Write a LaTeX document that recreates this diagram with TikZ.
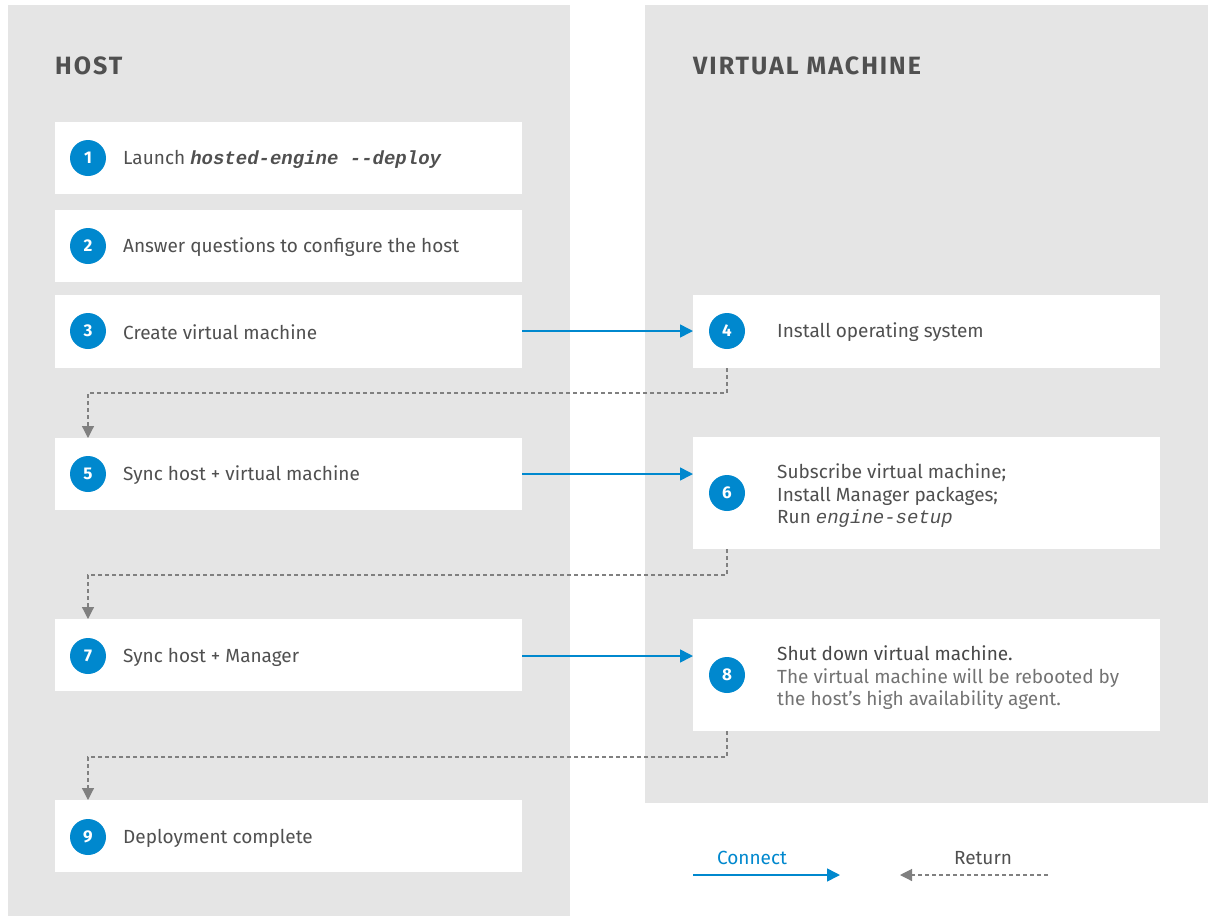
\documentclass[tikz,border=0pt]{standalone}
\usepackage{fontspec}
\setmainfont{Fira Sans}
\newfontfamily\codefont{Liberation Mono}
\newfontfamily\headfont[LetterSpace=8]{Fira Sans}
\usetikzlibrary{arrows.meta}
\definecolor{panel}{RGB}{229,229,229}
\definecolor{rhblue}{RGB}{0,136,206}
\definecolor{txt}{RGB}{80,80,80}
\definecolor{dash}{RGB}{128,128,128}
\tikzset{
  num/.style={circle, fill=rhblue, text=white, minimum size=36pt, inner sep=0pt, font=\fontsize{17}{20}\selectfont\bfseries},
  lbl/.style={anchor=west, text=txt, font=\fontsize{19}{22.5}\selectfont, align=left, inner sep=0pt},
  conn/.style={draw=rhblue, line width=1.6pt, -{Triangle[length=13pt,width=13pt]}},
  ret/.style={draw=dash, line width=1.2pt, dash pattern=on 4pt off 3pt, -{Triangle[length=12pt,width=12pt]}},
  head/.style={anchor=west, text=txt, font=\headfont\fontsize{25}{28}\selectfont\bfseries, inner sep=0pt}
}
\newcommand{\cmd}[1]{{\codefont\bfseries\itshape #1}}
\begin{document}
\begin{tikzpicture}[x=1pt,y=-1pt]
\useasboundingbox (0,0) rectangle (1208,916);
\fill[white] (0,0) rectangle (1208,916);
\fill[panel] (8,5) rectangle (570,916);
\fill[panel] (645,5) rectangle (1208,803);
\node[head] (hhost) at (55,66) {HOST};
\node[head] (hvm) at (693,66) {VIRTUAL MACHINE};
% boxes
\fill[white] (55,122) rectangle (522,194);
\fill[white] (55,210) rectangle (522,282);
\fill[white] (55,295) rectangle (522,368);
\fill[white] (693,295) rectangle (1160,368);
\fill[white] (55,438) rectangle (522,510);
\fill[white] (693,437) rectangle (1160,549);
\fill[white] (55,619) rectangle (522,691);
\fill[white] (693,619) rectangle (1160,731);
\fill[white] (55,800) rectangle (522,872);
% circles
\node[num] (n1) at (88,158) {1};
\node[num] (n2) at (88,246) {2};
\node[num] (n3) at (88,331) {3};
\node[num] (n4) at (727,331) {4};
\node[num] (n5) at (88,474) {5};
\node[num] (n6) at (727,493) {6};
\node[num] (n7) at (88,656) {7};
\node[num] (n8) at (727,675) {8};
\node[num] (n9) at (88,837) {9};
% labels
\node[lbl] (t1) at (123,159) {Launch \cmd{hosted-engine --deploy}};
\node[lbl] (t2) at (123,247) {Answer questions to configure the host};
\node[lbl] (t3) at (123,332) {Create virtual machine};
\node[lbl] (t4) at (777,332) {Install operating system};
\node[lbl] (t5) at (123,475) {Sync host + virtual machine};
\node[lbl] (t6) at (777,496) {Subscribe virtual machine;\\Install Manager packages;\\Run {\codefont\itshape engine-setup}};
\node[lbl] (t7) at (123,657) {Sync host + Manager};
\node[lbl] (t8) at (777,678) {\color{txt!90!black}Shut down virtual machine.\\\color{txt!80!white}The virtual machine will be rebooted by\\\color{txt!80!white}the host's high availability agent.};
\node[lbl] (t9) at (123,838) {Deployment complete};
% anchors for connectors
\coordinate (s3) at (522,331); \coordinate (e3) at (693,331);
\coordinate (s5) at (522,474); \coordinate (e5) at (693,474);
\coordinate (s7) at (522,656); \coordinate (e7) at (693,656);
\draw[conn] (s3) -- (e3);
\draw[conn] (s5) -- (e5);
\draw[conn] (s7) -- (e7);
\coordinate (r4) at (727,368); \coordinate (d5) at (88,438);
\coordinate (r6) at (727,549); \coordinate (d7) at (88,619);
\coordinate (r8) at (727,731); \coordinate (d9) at (88,800);
\draw[ret] (r4) -- (727,393) -- (88,393) -- (d5);
\draw[ret] (r6) -- (727,575) -- (88,575) -- (d7);
\draw[ret] (r8) -- (727,757) -- (88,757) -- (d9);
% legend
\node[lbl, anchor=center, text=rhblue] (lc) at (752,858) {Connect};
\node[lbl, anchor=center] (lr) at (983,858) {Return};
\coordinate (lc1) at (693,875); \coordinate (lc2) at (840,875);
\coordinate (lr1) at (1048,875); \coordinate (lr2) at (900,875);
\draw[conn] (lc1) -- (lc2);
\draw[ret] (lr1) -- (lr2);
\end{tikzpicture}
\end{document}
